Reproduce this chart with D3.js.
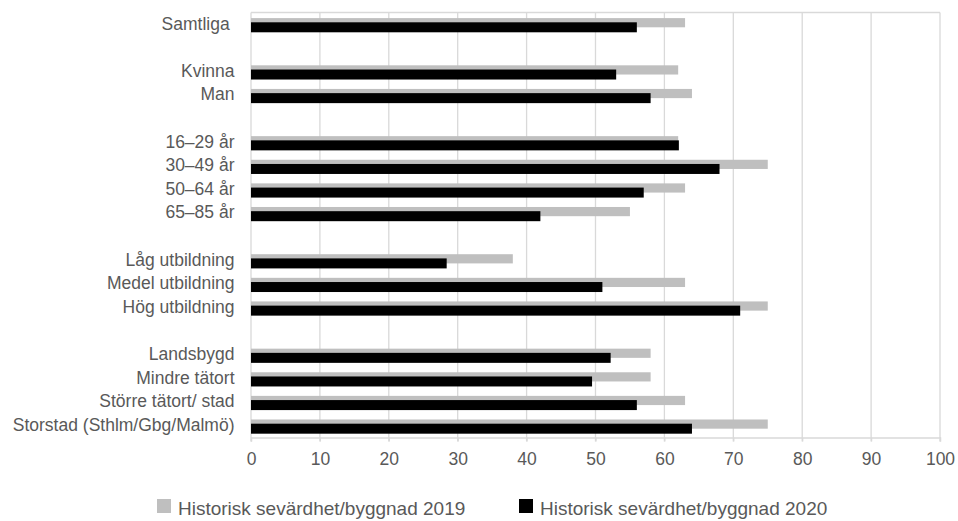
<!DOCTYPE html>
<html><head><meta charset="utf-8">
<script src="https://cdn.jsdelivr.net/npm/d3@7"></script>
<style>body{margin:0;background:#fff}svg{display:block}text{font-family:"Liberation Sans",Arial,sans-serif}</style>
</head><body>
<script>
const rows = ["Samtliga ", "", "Kvinna", "Man", "", "16–29 år", "30–49 år", "50–64 år", "65–85 år", "", "Låg utbildning", "Medel utbildning", "Hög utbildning", "", "Landsbygd", "Mindre tätort", "Större tätort/ stad", "Storstad (Sthlm/Gbg/Malmö)"];
const values2019 = [63, null, 62, 64, null, 62, 75, 63, 55, null, 38, 63, 75, null, 58, 58, 63, 75];
const values2020 = [56, null, 53, 58, null, 62.1, 68, 57, 42, null, 28.4, 51, 71, null, 52.2, 49.5, 56, 64];
const seriesNames = ["Historisk sevärdhet/byggnad 2019", "Historisk sevärdhet/byggnad 2020"];
const colors = ["#bfbfbf", "#000000"];
const xTicks = [0,10,20,30,40,50,60,70,80,90,100];

const W = 958, H = 521;
const svg = d3.select("body").append("svg").attr("width", W).attr("height", H);
const x = d3.scaleLinear().domain([0,100]).range([251, 940]);
const y = d3.scaleBand().domain(d3.range(rows.length)).range([12.5, 437.5]);
const grid = "#d9d9d9";
const txt = "#595959";

// gridlines
svg.append("g").selectAll("line").data(xTicks).join("line")
  .attr("x1", d => x(d)).attr("x2", d => x(d))
  .attr("y1", 12.5).attr("y2", 441.5)
  .attr("stroke", grid).attr("stroke-width", 1.3);
// top border
svg.append("line").attr("x1", x(0)).attr("x2", x(100)).attr("y1", 12.5).attr("y2", 12.5)
  .attr("stroke", grid).attr("stroke-width", 1.3);
// bottom axis
const xAxis = d3.axisBottom(x).tickValues(xTicks).tickSize(4).tickPadding(0);
const ax = svg.append("g").attr("transform", "translate(0,437.5)").call(xAxis);
ax.select(".domain").attr("stroke", grid).attr("stroke-width", 1.3);
ax.selectAll(".tick line").attr("stroke", grid).attr("stroke-width", 1.3);
ax.selectAll("text").attr("fill", txt).attr("font-size", 17.5).attr("dy", null).attr("y", 27.5)
  .style("font-family", '"Liberation Sans",Arial,sans-serif');

// 2019 bars
const idx = d3.range(rows.length).filter(i => values2019[i] != null);
svg.append("g").selectAll("rect").data(idx).join("rect")
  .attr("x", x(0)).attr("y", i => y(i) + 5.6)
  .attr("width", i => x(values2019[i]) - x(0)).attr("height", 9.2)
  .attr("fill", colors[0]);
// 2020 bars
svg.append("g").selectAll("rect").data(idx).join("rect")
  .attr("x", x(0)).attr("y", i => y(i) + 9.8)
  .attr("width", i => x(values2020[i]) - x(0)).attr("height", 10)
  .attr("fill", colors[1]);

// category labels
svg.append("g").selectAll("text").data(d3.range(rows.length)).join("text")
  .attr("x", 234.5).attr("y", i => y(i) + 17.1)
  .attr("text-anchor", "end")
  .attr("font-size", 17.5).attr("fill", txt)
  .style("white-space", "pre")
  .text(i => rows[i]);

// legend
const legX = [157, 519];
const lg = svg.append("g").selectAll("g").data(seriesNames).join("g")
  .attr("transform", (d, i) => `translate(${legX[i]},499)`);
lg.append("rect").attr("width", 14).attr("height", 14).attr("fill", (d, i) => colors[i]);
lg.append("text").attr("x", 21).attr("y", 15.5)
  .attr("font-size", 19).attr("fill", txt).text(d => d);
</script>
</body></html>
